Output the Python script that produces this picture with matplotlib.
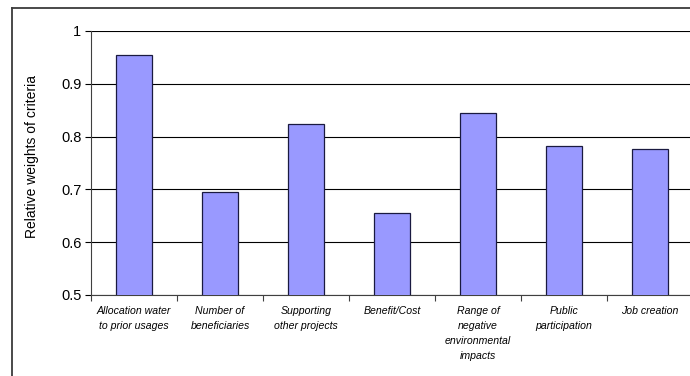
import numpy as np
import matplotlib.pyplot as plt
from matplotlib.lines import Line2D

# criteria and their relative weights
criteria = ['Allocation water\nto prior usages', 'Number of\nbeneficiaries',
            'Supporting\nother projects', 'Benefit/Cost',
            'Range of\nnegative\nenvironmental\nimpacts', 'Public\nparticipation',
            'Job creation']
weights = [0.954, 0.696, 0.823, 0.655, 0.845, 0.783, 0.777]
yticks = [0.5, 0.6, 0.7, 0.8, 0.9, 1.0]
ytick_labels = ['0.5', '0.6', '0.7', '0.8', '0.9', '1']

plt.rcParams['font.family'] = ['Liberation Sans', 'DejaVu Sans']

W, H = 690, 376
fig = plt.figure(figsize=(W/100, H/100), dpi=100)
# plot area: left 91px, top 31px, bottom 295px, right ~693px (runs past the edge)
ax = fig.add_axes([91/W, 1-295/H, (693-91)/W, (295-31)/H])

x = np.arange(len(criteria))
ax.bar(x, weights, width=0.41, bottom=0, color='#9999ff', edgecolor='#1a1a40',
       linewidth=0.9, zorder=3)

ax.set_ylim(0.5, 1.0)
ax.set_xlim(-0.5, len(criteria)-0.5)
ax.set_yticks(yticks)
ax.set_yticklabels(ytick_labels, fontsize=10.5)
ax.yaxis.grid(True, color='black', linewidth=0.8, zorder=0)
ax.set_axisbelow(True)

# ticks sit at the category boundaries, labels at centres
ax.set_xticks(np.arange(len(criteria)+1)-0.5)
ax.set_xticklabels([])
ax.set_xticks(x, minor=True)
ax.set_xticklabels(criteria, minor=True, fontsize=7.6, style='italic',
                   linespacing=1.6, va='top')
ax.tick_params(axis='x', which='minor', length=0, pad=8)
ax.tick_params(axis='x', which='major', length=4, width=0.8, color='#404040')
ax.tick_params(axis='y', length=4, width=0.8, pad=3)

for s in ['top', 'right']:
    ax.spines[s].set_visible(False)
ax.spines['left'].set_color('#404040')
ax.spines['bottom'].set_color('#404040')

fig.text(32/W, 1-156/H, 'Relative weights of criteria', rotation=90,
         fontsize=10, ha='center', va='center')

# outer chart frame (right and bottom sides fall outside the picture)
fig.add_artist(Line2D([12/W, 1], [1-7.5/H, 1-7.5/H], color='#3c3c3c', linewidth=1.3))
fig.add_artist(Line2D([12/W, 12/W], [0, 1-7.5/H], color='#3c3c3c', linewidth=1.3))

fig.savefig('out.png', dpi=100)
